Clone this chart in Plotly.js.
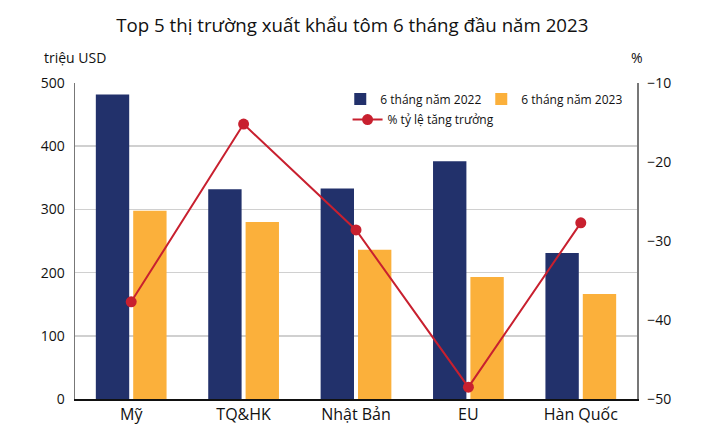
<!DOCTYPE html>
<html><head><meta charset="utf-8">
<script src="https://cdn.plot.ly/plotly-3.0.1.min.js"></script>
<style>html,body{margin:0;padding:0;background:#fff}#chart{width:719px;height:445px}</style>
</head><body><div id="chart"></div>
<script>
const categories = ["Mỹ", "TQ&HK", "Nhật Bản", "EU", "Hàn Quốc"];
const values2022 = [482, 332, 333, 376, 231];
const values2023 = [298, 280, 236, 193, 166];
const growthPct = [-37.7, -15.2, -28.6, -48.5, -27.7];
const leftTicks = [0, 100, 200, 300, 400, 500];
const rightTicks = [-50, -40, -30, -20, -10];

const FONT = "Open Sans, sans-serif";
const traces = [
  {type: "bar", name: "6 tháng năm 2022", x: categories, y: values2022,
   marker: {color: "#22316b"}, legend: "legend"},
  {type: "bar", name: "6 tháng năm 2023", x: categories, y: values2023,
   marker: {color: "#fbb03b"}, legend: "legend"},
  {type: "scatter", mode: "lines+markers", name: "% tỷ lệ tăng trưởng", x: categories, y: growthPct,
   yaxis: "y2", line: {color: "#c8202f", width: 2}, marker: {color: "#c8202f", size: 11},
   legend: "legend2"}
];
const layout = {
  width: 719, height: 445,
  margin: {l: 75, r: 82, t: 83, b: 46, autoexpand: false},
  paper_bgcolor: "#fff", plot_bgcolor: "#fff",
  font: {family: FONT, color: "#222", size: 14},
  title: {text: "Top 5 thị trường xuất khẩu tôm 6 tháng đầu năm 2023",
          font: {family: FONT, size: 18.7, color: "#111"}, x: 0.49, xanchor: "center", y: 0.943, yanchor: "middle"},
  barmode: "group", bargap: 0.335, bargroupgap: 0.107,
  xaxis: {type: "category", showline: true, linecolor: "#111", linewidth: 1.5,
          tickfont: {size: 16, color: "#111"}, ticks: "", showgrid: false},
  yaxis: {range: [0, 500], tickvals: leftTicks, showgrid: true, gridcolor: "#d0d0d0", gridwidth: 1.5,
          showline: true, linecolor: "#777", linewidth: 1.5, ticks: "", zeroline: false,
          ticklabelstandoff: 6, tickfont: {size: 14, color: "#111"}, fixedrange: true},
  yaxis2: {range: [-50, -10], tickvals: rightTicks, overlaying: "y", side: "right",
           showgrid: false, showline: true, linecolor: "#777", linewidth: 1.5, ticks: "",
           zeroline: false, ticklabelstandoff: 6, tickfont: {size: 14, color: "#111"}},
  legend: {orientation: "h", x: 0.472, y: 0.995, xanchor: "left", yanchor: "top",
           font: {size: 12, color: "#111"}, bgcolor: "rgba(0,0,0,0)", entrywidth: 96, traceorder: "normal"},
  legend2: {orientation: "h", x: 0.485, y: 0.93, xanchor: "left", yanchor: "top",
           font: {size: 12, color: "#111"}, bgcolor: "rgba(0,0,0,0)"},
  annotations: [
    {text: "triệu USD", xref: "paper", yref: "paper", x: 0, y: 1.045, xanchor: "center", yanchor: "bottom",
     showarrow: false, font: {size: 14, color: "#111"}},
    {text: "%", xref: "paper", yref: "paper", x: 1.0, y: 1.045, xanchor: "center", yanchor: "bottom",
     showarrow: false, font: {size: 14, color: "#111"}}
  ]
};
Plotly.newPlot("chart", traces, layout, {displayModeBar: false, staticPlot: true});
</script></body></html>
